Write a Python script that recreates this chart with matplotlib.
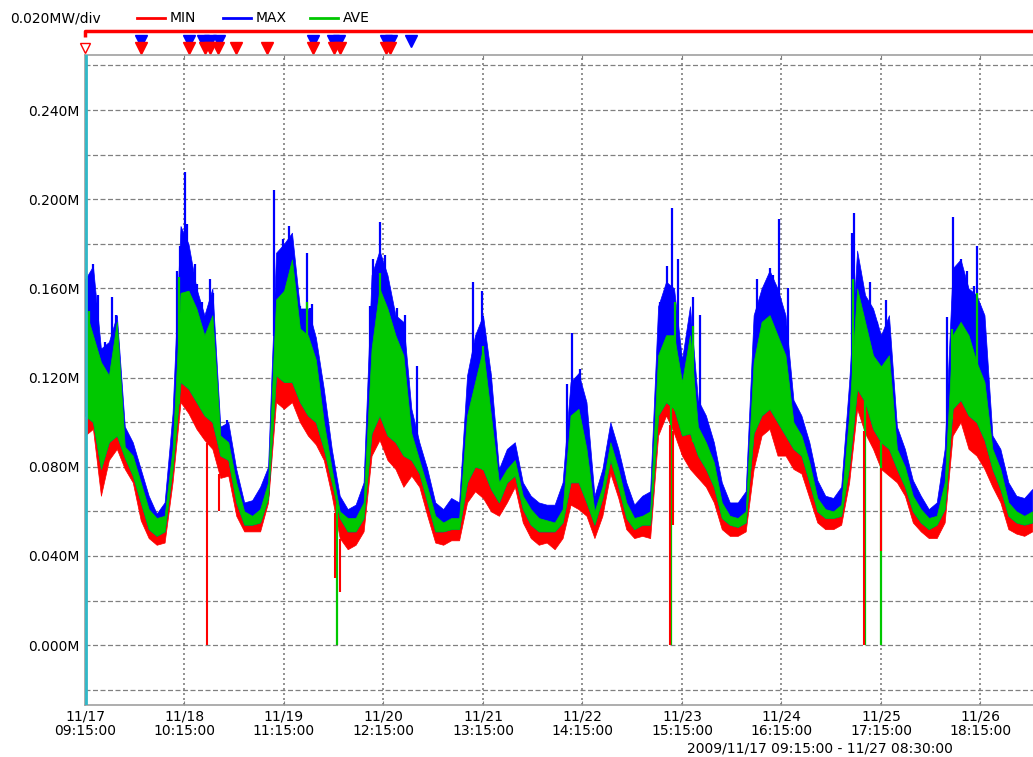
import numpy as np
import matplotlib.pyplot as plt

# time axis: hours from 2009/11/17 09:15, one sample every 2 h
hours = np.arange(0, 240, 2)

# envelopes (MW)
max_hi = [0.164, 0.170, 0.133, 0.136, 0.148, 0.098, 0.091, 0.079, 0.067, 0.059,
          0.064, 0.104, 0.188, 0.180, 0.160, 0.148, 0.160, 0.098, 0.100, 0.079,
          0.064, 0.065, 0.071, 0.080, 0.176, 0.180, 0.185, 0.151, 0.151, 0.138,
          0.115, 0.088, 0.067, 0.061, 0.063, 0.073, 0.166, 0.177, 0.166, 0.148,
          0.145, 0.106, 0.091, 0.079, 0.064, 0.061, 0.066, 0.064, 0.121, 0.139,
          0.148, 0.121, 0.079, 0.088, 0.091, 0.073, 0.067, 0.064, 0.063, 0.063,
          0.073, 0.118, 0.122, 0.109, 0.067, 0.079, 0.100, 0.088, 0.073, 0.063,
          0.067, 0.069, 0.152, 0.163, 0.160, 0.128, 0.152, 0.110, 0.103, 0.091,
          0.073, 0.064, 0.064, 0.069, 0.148, 0.160, 0.168, 0.160, 0.148, 0.110,
          0.103, 0.091, 0.074, 0.067, 0.066, 0.071, 0.118, 0.177, 0.157, 0.151,
          0.139, 0.148, 0.098, 0.088, 0.074, 0.067, 0.061, 0.064, 0.088, 0.169,
          0.173, 0.160, 0.157, 0.148, 0.094, 0.088, 0.073, 0.067, 0.066, 0.070]
ave_hi = [0.151, 0.139, 0.127, 0.121, 0.145, 0.089, 0.085, 0.073, 0.061, 0.057,
          0.058, 0.088, 0.158, 0.159, 0.151, 0.139, 0.148, 0.094, 0.091, 0.073,
          0.060, 0.058, 0.061, 0.073, 0.155, 0.159, 0.173, 0.142, 0.139, 0.128,
          0.100, 0.079, 0.060, 0.057, 0.057, 0.064, 0.133, 0.160, 0.151, 0.139,
          0.130, 0.095, 0.083, 0.071, 0.058, 0.055, 0.057, 0.057, 0.103, 0.118,
          0.133, 0.103, 0.073, 0.079, 0.083, 0.067, 0.061, 0.057, 0.056, 0.055,
          0.061, 0.103, 0.106, 0.088, 0.060, 0.071, 0.091, 0.079, 0.064, 0.057,
          0.058, 0.060, 0.130, 0.139, 0.139, 0.118, 0.139, 0.098, 0.091, 0.082,
          0.064, 0.058, 0.057, 0.060, 0.127, 0.145, 0.148, 0.139, 0.130, 0.100,
          0.094, 0.082, 0.066, 0.061, 0.060, 0.063, 0.103, 0.160, 0.145, 0.130,
          0.125, 0.130, 0.088, 0.080, 0.067, 0.061, 0.057, 0.058, 0.073, 0.139,
          0.145, 0.139, 0.127, 0.118, 0.088, 0.079, 0.064, 0.060, 0.058, 0.060]
ave_lo = [0.103, 0.100, 0.079, 0.091, 0.094, 0.084, 0.076, 0.064, 0.052, 0.049,
          0.051, 0.079, 0.118, 0.115, 0.109, 0.103, 0.100, 0.085, 0.083, 0.064,
          0.054, 0.054, 0.055, 0.066, 0.121, 0.118, 0.118, 0.109, 0.103, 0.100,
          0.088, 0.073, 0.057, 0.051, 0.051, 0.057, 0.095, 0.103, 0.094, 0.091,
          0.085, 0.083, 0.077, 0.064, 0.051, 0.051, 0.052, 0.052, 0.073, 0.080,
          0.079, 0.070, 0.064, 0.073, 0.076, 0.061, 0.054, 0.051, 0.051, 0.051,
          0.055, 0.073, 0.073, 0.064, 0.054, 0.066, 0.083, 0.071, 0.057, 0.052,
          0.054, 0.054, 0.103, 0.109, 0.106, 0.094, 0.095, 0.085, 0.079, 0.071,
          0.057, 0.054, 0.053, 0.055, 0.095, 0.103, 0.106, 0.100, 0.094, 0.088,
          0.085, 0.073, 0.060, 0.057, 0.057, 0.058, 0.080, 0.115, 0.109, 0.097,
          0.091, 0.088, 0.079, 0.071, 0.060, 0.055, 0.052, 0.054, 0.061, 0.106,
          0.110, 0.103, 0.100, 0.092, 0.079, 0.070, 0.058, 0.055, 0.054, 0.055]
min_lo = [0.094, 0.097, 0.067, 0.083, 0.088, 0.079, 0.073, 0.056, 0.048, 0.045,
          0.046, 0.073, 0.109, 0.104, 0.097, 0.092, 0.088, 0.075, 0.076, 0.058,
          0.051, 0.051, 0.051, 0.064, 0.109, 0.106, 0.109, 0.100, 0.094, 0.090,
          0.083, 0.067, 0.048, 0.043, 0.045, 0.051, 0.085, 0.092, 0.083, 0.079,
          0.071, 0.076, 0.071, 0.058, 0.046, 0.045, 0.047, 0.047, 0.064, 0.069,
          0.066, 0.060, 0.058, 0.064, 0.071, 0.055, 0.048, 0.045, 0.046, 0.043,
          0.048, 0.063, 0.061, 0.058, 0.048, 0.058, 0.077, 0.066, 0.052, 0.048,
          0.049, 0.048, 0.094, 0.103, 0.095, 0.085, 0.079, 0.075, 0.071, 0.064,
          0.052, 0.049, 0.049, 0.051, 0.079, 0.094, 0.097, 0.085, 0.085, 0.079,
          0.077, 0.066, 0.055, 0.052, 0.052, 0.054, 0.073, 0.106, 0.095, 0.088,
          0.079, 0.076, 0.073, 0.067, 0.055, 0.051, 0.048, 0.048, 0.055, 0.094,
          0.100, 0.088, 0.085, 0.079, 0.071, 0.064, 0.052, 0.050, 0.049, 0.051]

# narrow MAX peaks
max_spike_t = [2.0, 3.3, 5.0, 6.8, 7.8, 23.0, 23.9, 25.1, 25.7, 27.6, 28.1, 29.3,
               31.4, 32.2, 35.6, 47.6, 49.8, 51.3, 54.0, 55.7, 56.5, 57.0, 71.6,
               72.4, 74.1, 75.4, 78.3, 80.4, 83.3, 97.5, 99.7, 101.8, 121.0, 122.4,
               124.4, 144.5, 146.2, 147.4, 149.0, 152.8, 154.5, 168.8, 172.1, 172.9,
               174.5, 176.6, 192.6, 193.2, 194.7, 197.2, 198.9, 201.2, 216.5, 218.0,
               220.0, 221.5, 223.4, 224.0, 225.7]
max_spike_v = [0.171, 0.157, 0.136, 0.156, 0.148, 0.168, 0.179, 0.212, 0.189, 0.171,
               0.162, 0.154, 0.164, 0.158, 0.101, 0.204, 0.182, 0.188, 0.152, 0.176,
               0.151, 0.153, 0.152, 0.173, 0.190, 0.175, 0.151, 0.148, 0.125, 0.163,
               0.159, 0.123, 0.117, 0.140, 0.124, 0.154, 0.170, 0.196, 0.173, 0.156,
               0.148, 0.164, 0.169, 0.166, 0.191, 0.160, 0.185, 0.194, 0.168, 0.163,
               0.145, 0.155, 0.147, 0.192, 0.173, 0.168, 0.161, 0.179, 0.148]
# narrow AVE peaks
ave_spike_t = [1.0, 23.5, 55.7, 74.1, 100.1, 148.2, 152.8, 193.0, 217.8, 224.0]
ave_spike_v = [0.150, 0.165, 0.154, 0.167, 0.134, 0.154, 0.143, 0.164, 0.142, 0.158]
# drop-outs
min_drop_t = [30.7, 33.7, 62.8, 64.1, 147.1, 147.7, 195.8, 199.9]
min_drop_v = [0.000, 0.060, 0.030, 0.024, 0.000, 0.054, 0.000, 0.042]
ave_drop_t = [63.2, 147.2, 195.9, 200.0]
ave_drop_v = [0.000, 0.000, 0.000, 0.000]

# event markers above the plot
max_mark_t = [14.1, 26.1, 29.7, 31.4, 33.7, 57.3, 62.4, 63.9, 75.7, 76.9, 82.0]
min_mark_t = [14.1, 26.1, 30.2, 31.4, 33.4, 38.0, 45.8, 57.3, 62.6, 64.1, 75.7, 76.7]

tick_hours = [0, 25, 50, 75, 100, 125, 150, 175, 200, 225]
tick_labels = ['11/17\n09:15:00', '11/18\n10:15:00', '11/19\n11:15:00', '11/20\n12:15:00',
               '11/21\n13:15:00', '11/22\n14:15:00', '11/23\n15:15:00', '11/24\n16:15:00',
               '11/25\n17:15:00', '11/26\n18:15:00']
y_ticks = [0.0, 0.04, 0.08, 0.12, 0.16, 0.20, 0.24]
y_labels = ['0.000M', '0.040M', '0.080M', '0.120M', '0.160M', '0.200M', '0.240M']
y_minor = [-0.02, 0.02, 0.06, 0.10, 0.14, 0.18, 0.22, 0.26]

RED, BLUE, GREEN = '#ff0000', '#0000ff', '#00c800'
GRAY = '#808080'

plt.rcParams['font.family'] = 'DejaVu Sans'
plt.rcParams['font.size'] = 10

fig = plt.figure(figsize=(10.33, 7.57), dpi=100)

# header overlay in pixel coords
hdr = fig.add_axes([0, 0, 1, 1])
hdr.set_xlim(0, 1033)
hdr.set_ylim(757, 0)
hdr.axis('off')
hdr.text(10, 18, '0.020MW/div', va='center', ha='left', fontsize=10)
for x0, col, name in [(137, RED, 'MIN'), (223, BLUE, 'MAX'), (310, GREEN, 'AVE')]:
    hdr.plot([x0, x0 + 28], [18, 18], color=col, lw=2)
    hdr.text(x0 + 33, 18, name, va='center', ha='left', fontsize=10)
hdr.text(820, 749, '2009/11/17 09:15:00 - 11/27 08:30:00', ha='center', va='center', fontsize=10)

ax = fig.add_axes([85 / 1033, 1 - 705 / 757, 952.2 / 1033, 650 / 757])
ax.set_xlim(0, 239.25)
ax.set_ylim(-0.02687, 0.2647)

ax.fill_between(hours, min_lo, ave_lo, color=RED, lw=0.5, zorder=2)
ax.fill_between(hours, ave_lo, max_hi, color=BLUE, lw=0.5, zorder=3)
ax.vlines(max_spike_t, np.interp(max_spike_t, hours, ave_hi), max_spike_v,
          color=BLUE, lw=1.6, zorder=3)
ax.fill_between(hours, ave_lo, ave_hi, color=GREEN, lw=0.5, zorder=4)
ax.vlines(ave_spike_t, np.interp(ave_spike_t, hours, ave_lo), ave_spike_v,
          color=GREEN, lw=1.6, zorder=4)
ax.vlines(ave_drop_t, ave_drop_v, np.interp(ave_drop_t, hours, ave_lo),
          color=GREEN, lw=1.6, zorder=5)
ax.vlines(min_drop_t, min_drop_v, np.interp(min_drop_t, hours, min_lo),
          color=RED, lw=1.5, zorder=5)

# grid
ax.set_yticks(y_ticks)
ax.set_yticklabels(y_labels)
ax.set_yticks(y_minor, minor=True)
ax.grid(True, axis='y', which='both', color=GRAY, ls=(0, (4, 2)), lw=0.9)
ax.set_xticks(tick_hours)
ax.set_xticklabels(tick_labels, linespacing=1.1)
ax.grid(True, axis='x', which='major', color=GRAY, ls=(0, (1.2, 1.8)), lw=1.2)
ax.set_axisbelow(True)
ax.tick_params(axis='y', which='both', length=0, pad=4)
ax.tick_params(axis='x', length=0, pad=3)
ax.tick_params(axis='x', top=True, direction='in', length=3, color=GRAY, labeltop=False)

for s in ['top', 'bottom', 'left']:
    ax.spines[s].set_color('#a0a0a0')
    ax.spines[s].set_linewidth(1.2)
ax.spines['right'].set_visible(False)
ax.axvline(0.35, color='#30b8c8', lw=2, zorder=6)

# marker row and red bar above the plot
tr = ax.get_xaxis_transform()
ax.plot([0, 0, 239.25], [1.028, 1.037, 1.037], color=RED, lw=2.5,
        transform=tr, clip_on=False, solid_capstyle='butt')
ax.plot(max_mark_t, [1.0215] * len(max_mark_t), 'v', color=BLUE, ms=8,
        transform=tr, clip_on=False)
ax.plot(min_mark_t, [1.0105] * len(min_mark_t), 'v', color=RED, ms=8,
        transform=tr, clip_on=False)
ax.plot([0], [1.0105], 'v', mfc='white', mec=RED, ms=7, mew=1,
        transform=tr, clip_on=False)

fig.savefig('out.png', dpi=100)
